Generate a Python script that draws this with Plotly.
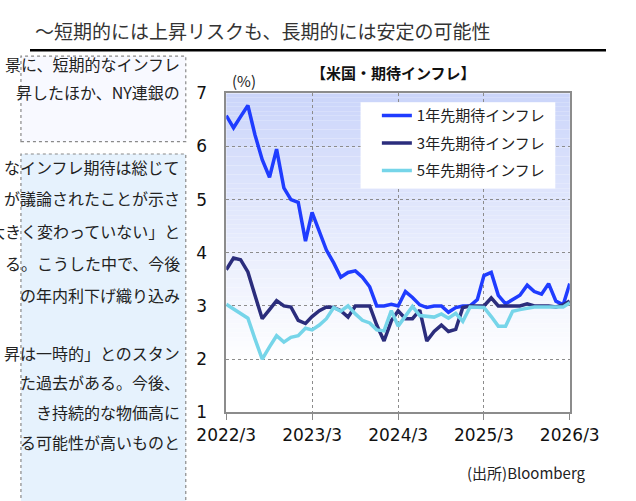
import pandas as pd
import plotly.graph_objects as go

# ---------------- data ----------------
months = pd.date_range("2022-03-01", "2026-03-01", freq="MS")
infl_1y = [6.58, 6.35, 6.56, 6.77, 6.22, 5.75, 5.42, 5.95, 5.22, 5.00,
           4.95, 4.22, 4.76, 4.38, 4.05, 3.81, 3.54, 3.63, 3.66, 3.54,
           3.36, 3.00, 3.00, 3.03, 3.00, 3.27, 3.16, 3.02, 2.97, 3.00,
           3.00, 2.88, 2.97, 3.00, 3.00, 3.12, 3.57, 3.63, 3.20, 3.04,
           3.12, 3.20, 3.39, 3.27, 3.22, 3.42, 3.09, 3.02, 3.42]
infl_3y = [3.68, 3.90, 3.87, 3.64, 3.20, 2.76, 2.93, 3.10, 3.00, 2.98,
           2.73, 2.67, 2.80, 2.91, 2.98, 2.97, 2.91, 2.79, 3.00, 3.00,
           3.00, 2.64, 2.34, 2.72, 2.91, 2.76, 2.76, 2.92, 2.34, 2.52,
           2.64, 2.52, 2.56, 2.97, 3.00, 3.00, 3.00, 3.15, 3.00, 3.00,
           3.00, 3.00, 3.04, 3.00, 3.00, 3.00, 2.98, 3.02, 3.09]
infl_5y = [3.03, 2.94, 2.85, 2.77, 2.38, 2.00, 2.23, 2.44, 2.32, 2.41,
           2.44, 2.58, 2.55, 2.64, 2.76, 2.97, 2.90, 3.00, 2.85, 2.73,
           2.68, 2.55, 2.53, 2.91, 2.62, 2.82, 2.99, 2.82, 2.80, 2.79,
           2.85, 2.77, 2.86, 2.71, 2.98, 2.98, 2.97, 2.80, 2.62, 2.62,
           2.90, 2.93, 2.96, 2.98, 2.98, 2.98, 2.98, 2.98, 3.06]
series_names = ["1年先期待インフレ", "3年先期待インフレ", "5年先期待インフレ"]
tick_dates = ["2022-03-01", "2023-03-01", "2024-03-01", "2025-03-01", "2026-03-01"]
tick_text = ["2022/3", "2023/3", "2024/3", "2025/3", "2026/3"]
y_ticks = [1, 2, 3, 4, 5, 6, 7]

chart_title = "【米国・期待インフレ】"
unit_label = "(%)"
source_label = "(出所)Bloomberg"
page_heading = "～短期的には上昇リスクも、長期的には安定の可能性"
box1_lines = ["景に、短期的なインフレ", "昇したほか、NY連銀の"]
box2_lines = ["なインフレ期待は総じて", "が議論されたことが示さ",
              "大きく変わっていない」と", "る。こうした中で、今後",
              "の年内利下げ織り込み"]
box3_lines = ["昇は一時的」とのスタン", "た過去がある。今後、",
              "き持続的な物価高に", "る可能性が高いものと"]

# ---------------- layout helpers ----------------
W, H = 636, 501
def px(x):
    return x / W
def py(y):
    return 1 - y / H

colors = ["#1f3cff", "#2b2d7c", "#76d5e9"]
JP = "Noto Sans CJK JP"
NUM = "DejaVu Sans"

fig = go.Figure()
for name, vals, c in zip(series_names, [infl_1y, infl_3y, infl_5y], colors):
    fig.add_trace(go.Scatter(x=months, y=vals, name=name, mode="lines",
                             line=dict(color=c, width=3.5), legendgroup=name))

shapes = []
# gradient background of the plot area (light blue at top, white toward bottom)
n = 60
top = (203, 213, 250)
y_lo, y_hi = 1.9, 7.0
for i in range(n):
    a = y_lo + (y_hi - y_lo) * i / n
    b = y_lo + (y_hi - y_lo) * (i + 1) / n
    t = (i + 0.5) / n
    r = int(round(255 + (top[0] - 255) * t))
    g = int(round(255 + (top[1] - 255) * t))
    bl = int(round(255 + (top[2] - 255) * t))
    shapes.append(dict(type="rect", xref="x domain", yref="y", x0=0, x1=1, y0=a, y1=b,
                       fillcolor=f"rgb({r},{g},{bl})", line=dict(width=0), layer="below"))

# legend white box
shapes.append(dict(type="rect", xref="paper", yref="paper", x0=px(365), x1=px(580),
                   y0=py(186), y1=py(96), fillcolor="white", line=dict(width=0), layer="above"))

# page heading rule
shapes.append(dict(type="line", xref="paper", yref="paper", x0=0, x1=1, y0=py(42), y1=py(42),
                   line=dict(color="black", width=2.5)))
# left text boxes
shapes.append(dict(type="rect", xref="paper", yref="paper", x0=px(-10), x1=px(172),
                   y0=py(137), y1=py(48), fillcolor="#f8f9ff",
                   line=dict(color="#8a8a8a", width=1.2, dash="dot")))
shapes.append(dict(type="rect", xref="paper", yref="paper", x0=px(-10), x1=px(172),
                   y0=py(520), y1=py(150), fillcolor="#e6f2fd",
                   line=dict(color="#8a8a8a", width=1.2, dash="dot")))

annotations = []
annotations.append(dict(text=page_heading, x=px(3), y=py(21), xref="paper", yref="paper",
                        xanchor="left", yanchor="middle", showarrow=False,
                        font=dict(family=JP, size=19, color="#333333")))
for txt, yy in zip(box1_lines, [56, 85]):
    annotations.append(dict(text=txt, x=px(168), y=py(yy), xref="paper", yref="paper",
                            xanchor="right", yanchor="middle", showarrow=False,
                            font=dict(family=JP, size=16, color="#222222")))
for txt, yy in zip(box2_lines, [164, 196, 230, 263, 297]):
    annotations.append(dict(text=txt, x=px(168), y=py(yy), xref="paper", yref="paper",
                            xanchor="right", yanchor="middle", showarrow=False,
                            font=dict(family=JP, size=16, color="#222222")))
for txt, yy in zip(box3_lines, [357, 387, 419, 450]):
    annotations.append(dict(text=txt, x=px(168), y=py(yy), xref="paper", yref="paper",
                            xanchor="right", yanchor="middle", showarrow=False,
                            font=dict(family=JP, size=16, color="#222222")))
annotations.append(dict(text="<b>" + chart_title + "</b>", x=px(401), y=py(65), xref="paper",
                        yref="paper", xanchor="center", yanchor="middle", showarrow=False,
                        font=dict(family=JP, size=15, color="#111111")))
annotations.append(dict(text=unit_label, x=px(236), y=py(73), xref="paper", yref="paper",
                        xanchor="center", yanchor="middle", showarrow=False,
                        font=dict(family=JP, size=15, color="#222222")))
annotations.append(dict(text=source_label, x=px(616), y=py(482), xref="paper", yref="paper",
                        xanchor="right", yanchor="middle", showarrow=False,
                        font=dict(family=JP, size=15, color="#222222")))

fig.update_layout(
    width=W, height=H, margin=dict(l=0, r=0, t=0, b=0),
    paper_bgcolor="white", plot_bgcolor="white",
    shapes=shapes, annotations=annotations,
    showlegend=True,
    legend=dict(x=px(383), y=py(93), xanchor="left", yanchor="top",
                bgcolor="rgba(0,0,0,0)", tracegroupgap=5,
                font=dict(family=JP, size=15, color="#222222"),
                itemwidth=30),
    xaxis=dict(domain=[px(216.7), px(596)], type="date",
               range=["2022-03-01", "2026-03-01"],
               tickvals=tick_dates, ticktext=tick_text,
               ticks="outside", ticklen=6, tickcolor="#888888",
               showline=True, mirror=True, linecolor="#8c8c8c", linewidth=1.5,
               showgrid=True, gridcolor="#8c8c8c", griddash="dot", gridwidth=1,
               tickfont=dict(family=NUM, size=17, color="#111111"),
               ticklabelstandoff=1),
    yaxis=dict(domain=[py(419), py(86.7)], range=[1, 7], tickvals=y_ticks,
               ticks="", showline=True, mirror=True, linecolor="#8c8c8c", linewidth=1.5,
               showgrid=True, gridcolor="#8c8c8c", griddash="dot", gridwidth=1,
               zeroline=False,
               tickfont=dict(family=NUM, size=17, color="#111111"),
               ticklabelstandoff=14),
)

fig.write_html("out.html", config={"displayModeBar": False},
               post_script="document.body.style.margin='0';document.body.style.overflow='hidden';")
